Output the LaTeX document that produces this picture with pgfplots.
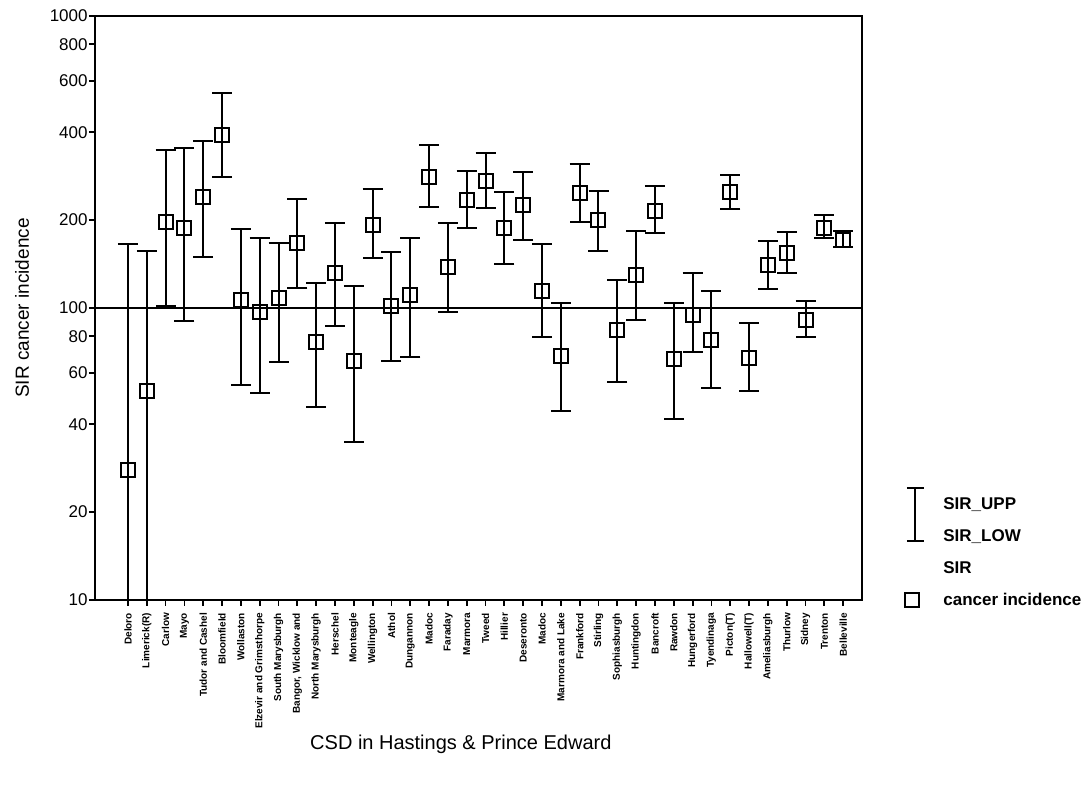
\documentclass[border=0pt]{standalone}
\usepackage{fontspec}
\setmainfont{Liberation Sans}
\usepackage{pgfplots}
\pgfplotsset{compat=1.18}
\usepackage{pgfplotstable}

% SIR with upper and lower confidence limits, per CSD
\pgfplotstableread{
x  sir    upp    low
0  27.9   165    9
1  51.9   157    9
2  197.5  348    101.6
3  187.5  352    90.5
4  240.5  372    149
5  392    545    280
6  106.5  187    54.5
7  96.7   173.6  51
8  108    166.6  65.2
9  167    236    116.8
10 76.3   121.8  45.7
11 131.5  195.5  87
12 66     118.7  34.8
13 192.9  255.6  148
14 101.8  155.9  65.7
15 110.8  173.3  67.8
16 281.7  362.5  222.3
17 138.5  195    96.7
18 235    295    187.5
19 271.6  339.6  219.5
20 187.9  249    141.5
21 225.4  293    170.6
22 114.6  165.6  79.4
23 68.3   104    44.3
24 247    311.3  196.6
25 200.1  252.2  156.4
26 84.3   125    55.7
27 130    183.9  91.2
28 215.4  262.3  180.6
29 66.9   104    41.7
30 94.9   131.8  70.5
31 77.9   114.6  53.1
32 249    285.5  218.3
33 67.3   88.9   51.8
34 140.4  170    116.2
35 154.3  182.5  131.8
36 91.2   105.9  79.4
37 187.5  208.2  173.3
38 171.4  183.9  161.4
}\sirdata

\begin{document}
\begin{tikzpicture}
\begin{axis}[
  name=ax,
  scale only axis,
  width=383.5pt, height=292pt,
  ymode=log,
  xmin=-1.75, xmax=39,
  ymin=10, ymax=1000,
  axis line style={line width=1pt},
  every tick/.style={black, line width=0.9pt},
  major tick length=3pt,
  tick align=outside,
  xtick pos=left, ytick pos=left,
  yminorticks=false,
  ytick={10,20,40,60,80,100,200,400,600,800,1000},
  yticklabels={10,20,40,60,80,100,200,400,600,800,1000},
  yticklabel style={font=\fontsize{8.5}{10}\selectfont, inner sep=0.5pt},
  /pgf/number format/assume math mode=true,
  xtick={0,...,38},
  xticklabels={Deloro, Limerick(R), Carlow, Mayo, Tudor and Cashel, Bloomfield,
    Wollaston, Elzevir and Grimsthorpe, South Marysburgh, {Bangor, Wicklow and},
    North Marysburgh, Herschel, Monteagle, Wellington, Athol, Dungannon, Madoc,
    Faraday, Marmora, Tweed, Hillier, Deseronto, Madoc, Marmora and Lake,
    Frankford, Stirling, Sophiasburgh, Huntingdon, Bancroft, Rawdon, Hungerford,
    Tyendinaga, Picton(T), Hallowell(T), Ameliasburgh, Thurlow, Sidney,
    Trenton, Belleville},
  xticklabel style={rotate=90, anchor=east, font=\bfseries\fontsize{5}{6}\selectfont},
  xlabel={CSD in Hastings \& Prince Edward},
  xlabel style={at={(axis description cs:0.477,-0.248)}, anchor=center, font=\fontsize{10}{12}\selectfont},
  ylabel={SIR cancer incidence},
  ylabel style={at={(axis description cs:-0.095,0.5)}, anchor=center, font=\fontsize{9.5}{11}\selectfont},
  legend style={at={(axis description cs:1.056,0.1815)}, anchor=north west,
    draw=none, fill=none, inner sep=0pt, row sep=6pt,
    font=\bfseries\fontsize{8.5}{10}\selectfont,
    nodes={inner sep=1pt, text height=6.5pt, text depth=1.5pt},
    /tikz/every odd column/.append style={column sep=8pt}},
  legend cell align=left,
]
\addlegendimage{legend image code/.code={
  \draw[line width=0.9pt, overlay] (5pt,8pt) -- (5pt,-18.5pt);
  \draw[line width=0.9pt, overlay] (0.75pt,8pt) -- (9.25pt,8pt);
  \draw[line width=0.9pt, overlay] (0.75pt,-18.5pt) -- (9.25pt,-18.5pt);
  \path[draw=none, fill=none] (0pt,-3pt) rectangle (10pt,3pt);}}
\addlegendentry{SIR\_UPP}
\addlegendimage{empty legend}
\addlegendentry{SIR\_LOW}
\addlegendimage{empty legend}
\addlegendentry{SIR}
\addlegendimage{legend image code/.code={
  \draw[black, line width=1pt, only marks, mark=square, mark size=3.5pt] plot coordinates {(3.5pt,0pt)};}}
\addlegendentry{cancer incidence}

\addplot[black, line width=1pt, forget plot] coordinates {(-1.75,100) (39,100)};

\addplot[black, only marks, mark=square, mark size=3.5pt, line width=1pt, forget plot,
  error bars/.cd, y dir=both, y explicit, error mark=|,
  error bar style={line width=1pt},
  error mark options={line width=1pt, mark size=5pt}]
  table[x=x, y=sir,
        y error plus expr=\thisrow{upp}-\thisrow{sir},
        y error minus expr=\thisrow{sir}-\thisrow{low}] {\sirdata};

\coordinate (sw) at (rel axis cs:0,0);
\end{axis}
\pgfresetboundingbox
\path[use as bounding box] ([shift={(-47.5pt,-97.5pt)}]sw) rectangle ++(545pt,397.5pt);
\end{tikzpicture}
\end{document}
